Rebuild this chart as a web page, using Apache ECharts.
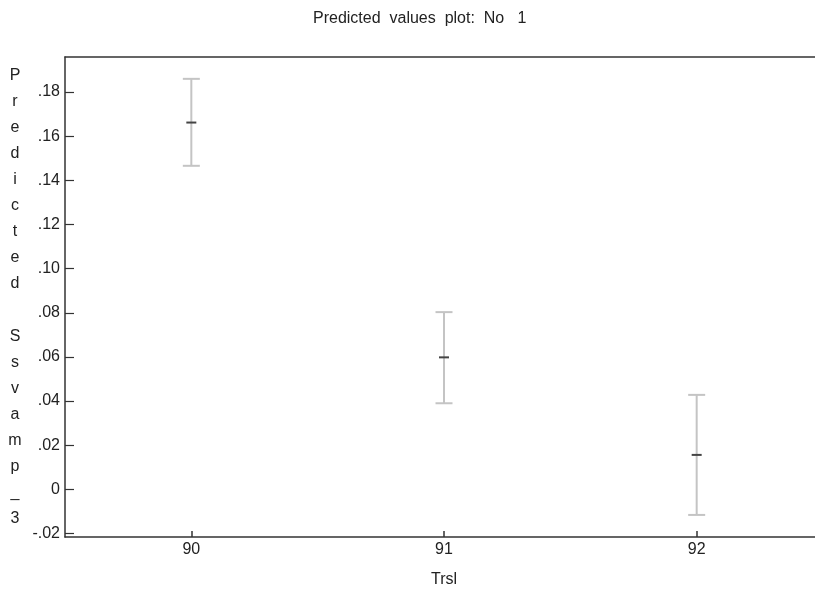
<!DOCTYPE html>
<html>
<head>
<meta charset="utf-8">
<script src="https://cdn.jsdelivr.net/npm/echarts@6/dist/echarts.min.js"></script>
<style>html,body{margin:0;padding:0;background:#fff;}#c{width:815px;height:590px;}</style>
</head>
<body>
<div id="c"></div>
<script>
const categories = [90, 91, 92];
const predicted = [0.1662, 0.0598, 0.0156];
const lower = [0.1466, 0.0390, -0.0116];
const upper = [0.1860, 0.0803, 0.0428];
const yTickValues = [-0.02, 0, 0.02, 0.04, 0.06, 0.08, 0.10, 0.12, 0.14, 0.16, 0.18];
const yTickLabels = ['-.02', '0', '.02', '.04', '.06', '.08', '.10', '.12', '.14', '.16', '.18'];
const xTickValues = [90, 91, 92];
const xTickLabels = ['90', '91', '92'];

const FONT = 'Liberation Sans, Arial, sans-serif';
const chart = echarts.init(document.getElementById('c'));
const data = categories.map((c, i) => [c, lower[i], upper[i], predicted[i]]);

function labelFor(values, labels, v) {
  for (let i = 0; i < values.length; i++) if (Math.abs(values[i] - v) < 1e-9) return labels[i];
  return '';
}

const frameLine = { show: true, onZero: false, lineStyle: { color: '#333', width: 1.5 } };

chart.setOption({
  animation: false,
  backgroundColor: '#fff',
  title: {
    text: 'Predicted  values  plot:  No   1',
    left: 308, top: 6,
    textStyle: { fontFamily: FONT, fontSize: 16, fontWeight: 'normal', color: '#222' }
  },
  grid: { left: 65, top: 57, width: 758, height: 480, show: false, outerBoundsMode: 'none', containLabel: false },
  xAxis: [{
    type: 'value', min: 89.5, max: 92.5, position: 'bottom',
    name: 'Trsl', nameLocation: 'middle', nameGap: 35,
    nameTextStyle: { fontFamily: FONT, fontSize: 16, color: '#222' },
    axisLine: frameLine,
    axisTick: { show: true, inside: true, length: 6, lineStyle: { color: '#333', width: 1.5 }, customValues: xTickValues },
    axisLabel: { fontFamily: FONT, fontSize: 16, color: '#222', margin: 5, customValues: xTickValues,
      formatter: v => labelFor(xTickValues, xTickLabels, v) },
    splitLine: { show: false }
  }, {
    type: 'value', min: 89.5, max: 92.5, position: 'top',
    axisLine: frameLine, axisTick: { show: false }, axisLabel: { show: false }, splitLine: { show: false }
  }],
  yAxis: {
    type: 'value', min: -0.0216, max: 0.1959,
    name: 'Predicted Ssvamp_3'.split('').join('\n'),
    nameLocation: 'middle', nameRotate: 0, nameGap: 50,
    nameTextStyle: { fontFamily: FONT, fontSize: 16, color: '#222', lineHeight: 26.1, align: 'center', verticalAlign: 'middle' },
    axisLine: frameLine,
    axisTick: { show: true, inside: true, length: 9, lineStyle: { color: '#333', width: 1.2 }, customValues: yTickValues },
    axisLabel: { fontFamily: FONT, fontSize: 16, color: '#222', margin: 5, customValues: yTickValues,
      formatter: v => labelFor(yTickValues, yTickLabels, v) },
    splitLine: { show: false }
  },
  series: [{
    type: 'custom',
    xAxisIndex: 0,
    data: data,
    renderItem: function (params, api) {
      const x = api.value(0);
      const lo = api.coord([x, api.value(1)]);
      const hi = api.coord([x, api.value(2)]);
      const mid = api.coord([x, api.value(3)]);
      const capW = 8.5, midW = 5;
      const barStyle = { stroke: '#c4c4c4', lineWidth: 2 };
      return {
        type: 'group',
        children: [
          { type: 'line', shape: { x1: hi[0], y1: hi[1], x2: lo[0], y2: lo[1] }, style: barStyle },
          { type: 'line', shape: { x1: hi[0] - capW, y1: hi[1], x2: hi[0] + capW, y2: hi[1] }, style: barStyle },
          { type: 'line', shape: { x1: lo[0] - capW, y1: lo[1], x2: lo[0] + capW, y2: lo[1] }, style: barStyle },
          { type: 'line', shape: { x1: mid[0] - midW, y1: mid[1], x2: mid[0] + midW, y2: mid[1] }, style: { stroke: '#444', lineWidth: 2 } }
        ]
      };
    }
  }]
});
</script>
</body>
</html>
